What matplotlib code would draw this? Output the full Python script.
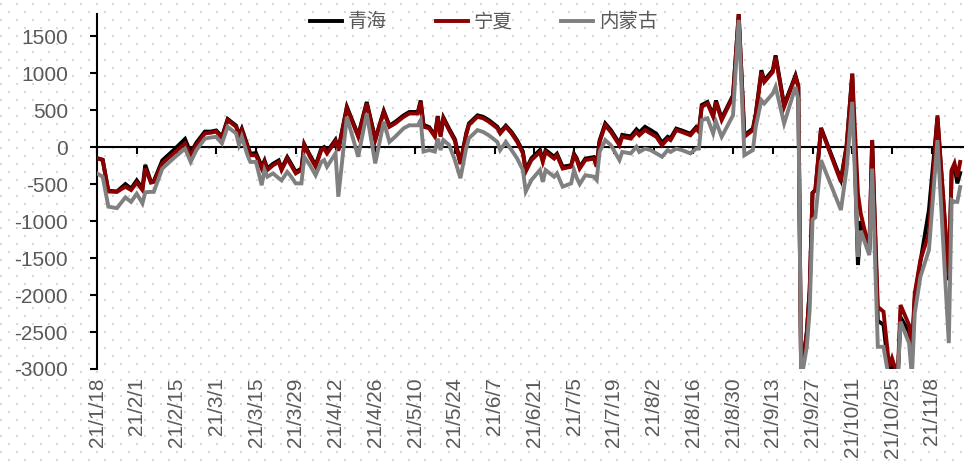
import numpy as np
import pandas as pd
import matplotlib
matplotlib.use('Agg')
import matplotlib.pyplot as plt
import matplotlib.dates as mdates

plt.rcParams['font.family'] = ['Liberation Sans', 'DejaVu Sans']
plt.rcParams['axes.unicode_minus'] = False

# ---- data (2021) ----
dates = [
    '1/18', '1/20', '1/22', '1/25', '1/28', '1/30', '2/1', '2/3', '2/4', '2/6',
    '2/7', '2/10', '2/14', '2/18', '2/20', '2/22', '2/25', '2/27', '3/1', '3/3',
    '3/5', '3/8', '3/9', '3/10', '3/12', '3/13', '3/15', '3/17', '3/18', '3/19',
    '3/21', '3/23', '3/24', '3/26', '3/27', '3/29', '3/31', '4/1', '4/3', '4/5',
    '4/7', '4/8', '4/9', '4/12', '4/13', '4/16', '4/20', '4/23', '4/26', '4/29',
    '5/1', '5/3', '5/6', '5/8', '5/11', '5/12', '5/13', '5/15', '5/17', '5/18',
    '5/19', '5/20', '5/22', '5/24', '5/26', '5/28', '5/29', '6/1', '6/3', '6/5',
    '6/8', '6/9', '6/11', '6/13', '6/15', '6/17', '6/18', '6/20', '6/23', '6/24',
    '6/25', '6/28', '6/29', '7/1', '7/4', '7/5', '7/6', '7/7', '7/9', '7/12',
    '7/13', '7/14', '7/16', '7/18', '7/21', '7/22', '7/25', '7/27', '7/28', '7/30',
    '8/1', '8/3', '8/5', '8/7', '8/8', '8/10', '8/12', '8/15', '8/17', '8/18',
    '8/19', '8/21', '8/23', '8/24', '8/26', '8/30', '9/1', '9/3', '9/6', '9/7',
    '9/9', '9/10', '9/13', '9/14', '9/17', '9/21', '9/22', '9/23', '9/25', '9/26',
    '9/27', '9/28', '9/30', '10/7', '10/9', '10/11', '10/13', '10/14', '10/17', '10/18',
    '10/20', '10/22', '10/24', '10/25', '10/27', '10/28', '10/31', '11/1', '11/2', '11/4',
    '11/7', '11/10', '11/14', '11/15', '11/16', '11/17', '11/18',
]

qinghai = [
    -150, -170, -590, -600, -500, -560, -450, -560, -240, -470,
    -460, -180, -40, 110, -80, 60, 210, 210, 225, 140,
    380, 290, 160, 250, 25, -90, -80, -260, -180, -290,
    -225, -180, -290, -135, -200, -335, -290, 40, -110, -245,
    -20, 0, -65, 100, -30, 545, 160, 610, 110, 490,
    290, 340, 430, 475, 475, 630, 300, 270, 160, 420,
    160, 400, 250, 110, -210, 180, 320, 430, 410, 365,
    275, 205, 290, 205, 90, -60, -310, -150, -40, -175,
    -40, -130, -90, -265, -245, -90, -155, -270, -155, -135,
    -245, 90, 320, 230, 50, 165, 145, 240, 200, 275,
    230, 180, 60, 140, 120, 250, 225, 180, 270, 225,
    570, 610, 430, 630, 390, 700, 1800, 160, 250, 450,
    1040, 900, 1040, 1240, 570, 970, 830, -3100, -2500, -1930,
    -620, -580, 260, -440, 20, 990, -1594, -1000, -1420, 90,
    -2350, -2400, -3100, -2950, -3150, -2300, -2500, -2800, -2050, -1550,
    -850, 400, -1800, -330, -260, -490, -350,
]

ningxia = [
    -150, -175, -600, -605, -535, -580, -480, -580, -290, -480,
    -470, -220, -85, 50, -110, 30, 185, 195, 210, 120,
    365, 275, 140, 230, 5, -110, -110, -290, -200, -310,
    -245, -200, -310, -155, -220, -355, -310, 30, -130, -265,
    -40, -20, -85, 80, -50, 525, 140, 590, 95, 475,
    275, 320, 410, 455, 455, 610, 275, 255, 140, 410,
    140, 385, 230, 90, -230, 160, 300, 410, 390, 345,
    255, 185, 275, 185, 70, -85, -330, -175, -65, -200,
    -65, -155, -110, -290, -265, -110, -175, -290, -175, -155,
    -265, 70, 295, 205, 25, 140, 115, 205, 160, 230,
    185, 140, 25, 115, 95, 230, 205, 160, 250, 205,
    545, 590, 410, 610, 365, 680, 1800, 140, 230, 430,
    1015, 880, 1015, 1220, 545, 950, 815, -3100, -2500, -1930,
    -620, -580, 250, -470, 5, 995, -630, -900, -1390, 95,
    -2160, -2225, -2970, -2855, -3100, -2135, -2405, -2740, -1977, -1527,
    -1166, 430, -1750, -310, -220, -400, -200,
]

neimenggu = [
    -355, -400, -805, -825, -680, -740, -630, -760, -610, -605,
    -605, -290, -150, -20, -200, -40, 115, 130, 140, 50,
    275, 185, 30, 140, -110, -200, -200, -515, -310, -400,
    -355, -420, -450, -335, -380, -490, -490, -130, -245, -380,
    -200, -175, -265, -85, -670, 410, -130, 455, -220, 345,
    70, 140, 255, 295, 295, 365, -60, -40, -60, 115,
    -40, 95, 30, -170, -420, -20, 120, 230, 205, 160,
    70, -40, 70, -40, -155, -310, -600, -445, -310, -470,
    -310, -400, -355, -535, -490, -310, -420, -500, -380, -400,
    -445, -65, 95, 25, -175, -65, -85, 5, -65, -20,
    -40, -85, -130, -40, -65, -20, -40, -85, -20, -20,
    365, 390, 185, 345, 140, 430, 1720, -110, -40, 275,
    635, 590, 725, 815, 320, 815, 635, -3150, -2700, -2200,
    -980, -950, -176, -850, -300, 612, -1480, -1130, -1460, -290,
    -2700, -2700, -3150, -3150, -3150, -2360, -2650, -3100, -2248, -1752,
    -1392, 95, -2650, -716, -740, -740, -540,
]

series_names = ['青海', '宁夏', '内蒙古']
series_colors = ['#000000', '#8B0000', '#808080']

x = mdates.date2num(pd.to_datetime(['2021/' + d for d in dates]))
tick_days = pd.date_range('2021-01-18', '2021-11-08', freq='14D')
tick_x = mdates.date2num(tick_days)
tick_labels = [f'{d.year % 100}/{d.month}/{d.day}' for d in tick_days]

W, H = 966, 467
fig = plt.figure(figsize=(W / 100, H / 100), dpi=100)

# dotted background texture
bg = fig.add_axes([0, 0, 1, 1], zorder=0)
bg.set_xlim(0, W); bg.set_ylim(H, 0); bg.axis('off')
for y0, x0 in [(11.7, 8.7), (3.7, 0.7)]:
    gx, gy = np.meshgrid(np.arange(x0, W, 16), np.arange(y0, H, 16))
    bg.scatter(gx.ravel(), gy.ravel(), s=2.2, marker='s', c='#d9d9d9', linewidths=0)

ax = fig.add_axes([97 / W, 1 - 369 / H, (963 - 97) / W, (369 - 14) / H], zorder=1)
ax.patch.set_alpha(0)

for vals, name, col, z in zip([qinghai, ningxia, neimenggu], series_names, series_colors, [2, 3, 4]):
    ax.plot(x, vals, color=col, lw=2.8, label=name, zorder=z, solid_joinstyle='miter')

ax.set_ylim(-3000, 1800)
ax.set_xlim(mdates.date2num(pd.Timestamp('2021-01-18')), mdates.date2num(pd.Timestamp('2021-11-19')))
ax.set_yticks(np.arange(-3000, 1501, 500))

for s in ['top', 'right']:
    ax.spines[s].set_visible(False)
ax.spines['left'].set_linewidth(1.5)
ax.spines['bottom'].set_position(('data', 0))
ax.spines['bottom'].set_linewidth(1.5)
ax.spines['bottom'].set_zorder(1)

ax.set_xticks(tick_x)
ax.tick_params(axis='x', direction='out', length=5, width=1.5, labelbottom=False)
ax.tick_params(axis='y', direction='out', length=5, width=1.5, pad=16,
               labelsize=15, labelcolor='#595959')

sec = ax.secondary_xaxis('bottom')
sec.set_xticks(tick_x, tick_labels)
sec.spines['bottom'].set_visible(False)
sec.tick_params(length=0, pad=6, labelsize=15, labelcolor='#595959', labelrotation=90)

fig.legend(loc='center', bbox_to_anchor=(0.501, 0.953), ncol=3, frameon=False,
           prop={'family': ['Noto Sans CJK SC', 'DejaVu Sans'], 'size': 14},
           labelcolor='#595959', handlelength=1.65, handletextpad=0.3, columnspacing=2.5)

fig.savefig('out.png', dpi=100)
